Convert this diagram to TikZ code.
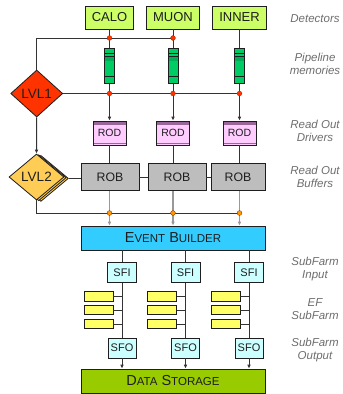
\documentclass[tikz,border=0pt]{standalone}
\usepackage{fontspec}
\setmainfont{Liberation Sans}
\usetikzlibrary{shapes.geometric,arrows.meta}
\definecolor{Ink}{HTML}{1E1E1E}
\definecolor{Wire}{HTML}{333333}
\definecolor{WireLight}{HTML}{999999}
\definecolor{DetGreen}{HTML}{CCFF66}
\definecolor{PipeGreen}{HTML}{00CC66}
\definecolor{PipeDark}{HTML}{00AD57}
\definecolor{LvlRed}{HTML}{FF3300}
\definecolor{LvlGold}{HTML}{FFCC55}
\definecolor{RodPink}{HTML}{FFCCFF}
\definecolor{RodBand}{HTML}{996699}
\definecolor{RobGray}{HTML}{BDBDBD}
\definecolor{EbCyan}{HTML}{33CCFF}
\definecolor{SfPale}{HTML}{CCFFFF}
\definecolor{EfYellow}{HTML}{FFFF66}
\definecolor{DsOlive}{HTML}{99CC00}
\definecolor{DotRed}{HTML}{FF3300}
\definecolor{DotOrange}{HTML}{FF9900}
\definecolor{DotRim}{HTML}{993300}
\definecolor{Note}{HTML}{6E6E6E}
\newcommand{\smallcap}[1]{{\fontsize{11.5}{13}\selectfont #1}}

\begin{document}
\begin{tikzpicture}[x=1pt,y=-1pt,every node/.style={text=Ink,inner sep=0pt},
  box/.style={draw=Ink,line width=0.8pt},
  det/.style={box,fill=DetGreen,inner xsep=6.5pt,minimum height=23pt,font=\fontsize{13}{15}\selectfont},
  pipe/.style={box,fill=PipeGreen,minimum width=10pt,minimum height=35pt,path picture={
    \fill[PipeDark] ([yshift=-7.7pt]path picture bounding box.north west) rectangle ([yshift=-12pt]path picture bounding box.north east);
    \draw[Ink,line width=0.7pt] ([yshift=-5pt]path picture bounding box.north west)--([yshift=-5pt]path picture bounding box.north east)
      ([yshift=-7.7pt]path picture bounding box.north west)--([yshift=-7.7pt]path picture bounding box.north east)
      ([yshift=7pt]path picture bounding box.south west)--([yshift=7pt]path picture bounding box.south east);}},
  lvl/.style={diamond,draw=Ink,line width=0.8pt,minimum width=52pt,minimum height=47pt,font=\fontsize{13.5}{15}\selectfont},
  rod/.style={box,fill=RodPink,minimum width=33pt,minimum height=24pt,font=\fontsize{10.5}{12}\selectfont,path picture={
    \fill[RodBand] (path picture bounding box.north west) rectangle ([yshift=-4pt]path picture bounding box.north east);
    \draw[RodBand,line width=0.7pt] ([yshift=2pt]path picture bounding box.south west)--([yshift=2pt]path picture bounding box.south east);}},
  rob/.style={box,fill=RobGray,minimum width=58pt,minimum height=27pt,font=\fontsize{12.3}{14}\selectfont},
  bar/.style={box,minimum width=184pt,minimum height=24pt,font=\fontsize{14.5}{16}\selectfont},
  sf/.style={box,fill=SfPale,minimum width=29pt,minimum height=20pt,font=\fontsize{11}{13}\selectfont},
  ef/.style={box,fill=EfYellow,minimum width=29pt,minimum height=9.5pt},
  wire/.style={Wire,line width=1pt},
  feed/.style={WireLight,line width=1.1pt},
  tip/.style={-{Latex[length=4pt,width=3.8pt]}},
  dot/.style={draw=DotRim,line width=0.4pt},
  note/.style={text=Note,align=center,font=\itshape\fontsize{11.5}{13}\selectfont}]
\fill[white] (0,0) rectangle (343,394);
\useasboundingbox (0,0) rectangle (343,394);
\node[det] (calo) at (109.5,17.5) {CALO};\node[det] (muon) at (173,17.5) {MUON};\node[det] (inner) at (239.5,17.5) {INNER};
\node[pipe] (pm1) at (109.5,66) {};\node[pipe] (pm2) at (173,66) {};\node[pipe] (pm3) at (239.5,66) {};
\node[lvl,fill=LvlRed] (lvl1) at (36.7,93.5) {LVL1};
\node[rod] (rod1) at (109.5,133) {ROD};\node[rod] (rod2) at (173,133) {ROD};\node[rod] (rod3) at (239.5,133) {ROD};
\node[rob] (rob1) at (110,177) {ROB};\node[rob] (rob2) at (177,177) {ROB};\node[rob,minimum width=54pt] (rob3) at (238,177) {ROB};
\node[lvl,fill=LvlGold,minimum width=55pt,minimum height=46pt] (lvl2c) at (40.9,178.4) {};
\node[lvl,fill=LvlGold,minimum width=55pt,minimum height=46pt] (lvl2b) at (38.7,177.7) {};
\node[lvl,fill=LvlGold,minimum width=55pt,minimum height=46pt] (lvl2) at (36.5,177) {LVL2};
\node[bar,fill=EbCyan] (eb) at (173,238) {E\smallcap{VENT} B\smallcap{UILDER}};
\node[sf] (sfi1) at (122,272.5) {SFI};\node[sf] (sfi2) at (185.5,272.5) {SFI};\node[sf] (sfi3) at (249,272.5) {SFI};
\node[ef] (ef11) at (98.5,296.5) {};\node[ef] (ef12) at (98.5,310) {};\node[ef] (ef13) at (98.5,324) {};
\node[ef] (ef21) at (162,296.5) {};\node[ef] (ef22) at (162,310) {};\node[ef] (ef23) at (162,324) {};
\node[ef] (ef31) at (225.5,296.5) {};\node[ef] (ef32) at (225.5,310) {};\node[ef] (ef33) at (225.5,324) {};
\node[sf,minimum width=28pt] (sfo1) at (122,348) {SFO};\node[sf,minimum width=28pt] (sfo2) at (185.5,348) {SFO};\node[sf,minimum width=28pt] (sfo3) at (249,348) {SFO};
\node[bar,fill=DsOlive] (ds) at (173,381) {D\smallcap{ATA} S\smallcap{TORAGE}};
\coordinate (t1) at (109.5,38);\coordinate (t2) at (173,38);
\coordinate (m1) at (109.5,93.5);\coordinate (m2) at (173,93.5);\coordinate (m3) at (239.5,93.5);
\coordinate (b1) at (109.5,213);\coordinate (b2) at (173,213);\coordinate (b3) at (239.5,213);
\draw[wire] (calo) -- (pm1);\draw[wire] (muon) -- (pm2);\draw[wire] (inner) -- (pm3);
\draw[wire] (lvl1.north) |- (t2);\draw[wire] (lvl1.east) -- (m3);
\draw[wire,tip] (pm1) -- (rod1);\draw[wire,tip] (pm2) -- (rod2);\draw[wire,tip] (pm3) -- (rod3);
\draw[wire,tip] (lvl1.south) -- (lvl2.north);
\draw[wire] (rod1) -- (rod1.south |- rob1.north);\draw[wire] (rod2) -- (rod2.south |- rob2.north);\draw[wire] (rod3) -- (rod3.south |- rob3.north);
\draw[wire] (lvl2c.east) -- (lvl2c.east -| rob1.west);\draw[wire] (rob1) -- (rob2);\draw[wire] (rob2) -- (rob3);
\draw[wire] (lvl2.south) |- (b3);
\draw[feed,tip] (b1 |- rob1.south) -- (b1 |- eb.north);\draw[feed,tip] (b2 |- rob2.south) -- (b2 |- eb.north);\draw[feed,tip] (b3 |- rob3.south) -- (b3 |- eb.north);
\draw[wire] (eb.south -| sfi1.north) -- (sfi1);\draw[wire] (eb.south -| sfi2.north) -- (sfi2);\draw[wire] (eb.south -| sfi3.north) -- (sfi3);
\draw[wire] (sfi1) -- (sfo1);\draw[wire] (sfi2) -- (sfo2);\draw[wire] (sfi3) -- (sfo3);
\draw[wire] (ef11.east) -- (ef11.east -| sfi1.south);\draw[wire] (ef12.east) -- (ef12.east -| sfi1.south);\draw[wire] (ef13.east) -- (ef13.east -| sfi1.south);
\draw[wire] (ef21.east) -- (ef21.east -| sfi2.south);\draw[wire] (ef22.east) -- (ef22.east -| sfi2.south);\draw[wire] (ef23.east) -- (ef23.east -| sfi2.south);
\draw[wire] (ef31.east) -- (ef31.east -| sfi3.south);\draw[wire] (ef32.east) -- (ef32.east -| sfi3.south);\draw[wire] (ef33.east) -- (ef33.east -| sfi3.south);
\draw[wire,tip] (sfo1) -- (sfo1.south |- ds.north);\draw[wire,tip] (sfo2) -- (sfo2.south |- ds.north);\draw[wire,tip] (sfo3) -- (sfo3.south |- ds.north);
\filldraw[dot,fill=DotRed] (t1) circle (2.4pt) (t2) circle (2.4pt) (m1) circle (2.4pt) (m2) circle (2.4pt) (m3) circle (2.4pt);
\filldraw[dot,fill=DotOrange] (b1) circle (2.4pt) (b2) circle (2.4pt) (b3) circle (2.4pt);
\node[note] (nDet) at (315,19) {Detectors};
\node[note] (nPipe) at (315,64) {Pipeline\\memories};
\node[note] (nRod) at (315,131) {Read Out\\Drivers};
\node[note] (nRob) at (315,177) {Read Out\\Buffers};
\node[note] (nSfi) at (315,269) {SubFarm\\Input};
\node[note] (nEf) at (315,309) {EF\\SubFarm};
\node[note] (nSfo) at (315,350) {SubFarm\\Output};
\end{tikzpicture}
\end{document}
